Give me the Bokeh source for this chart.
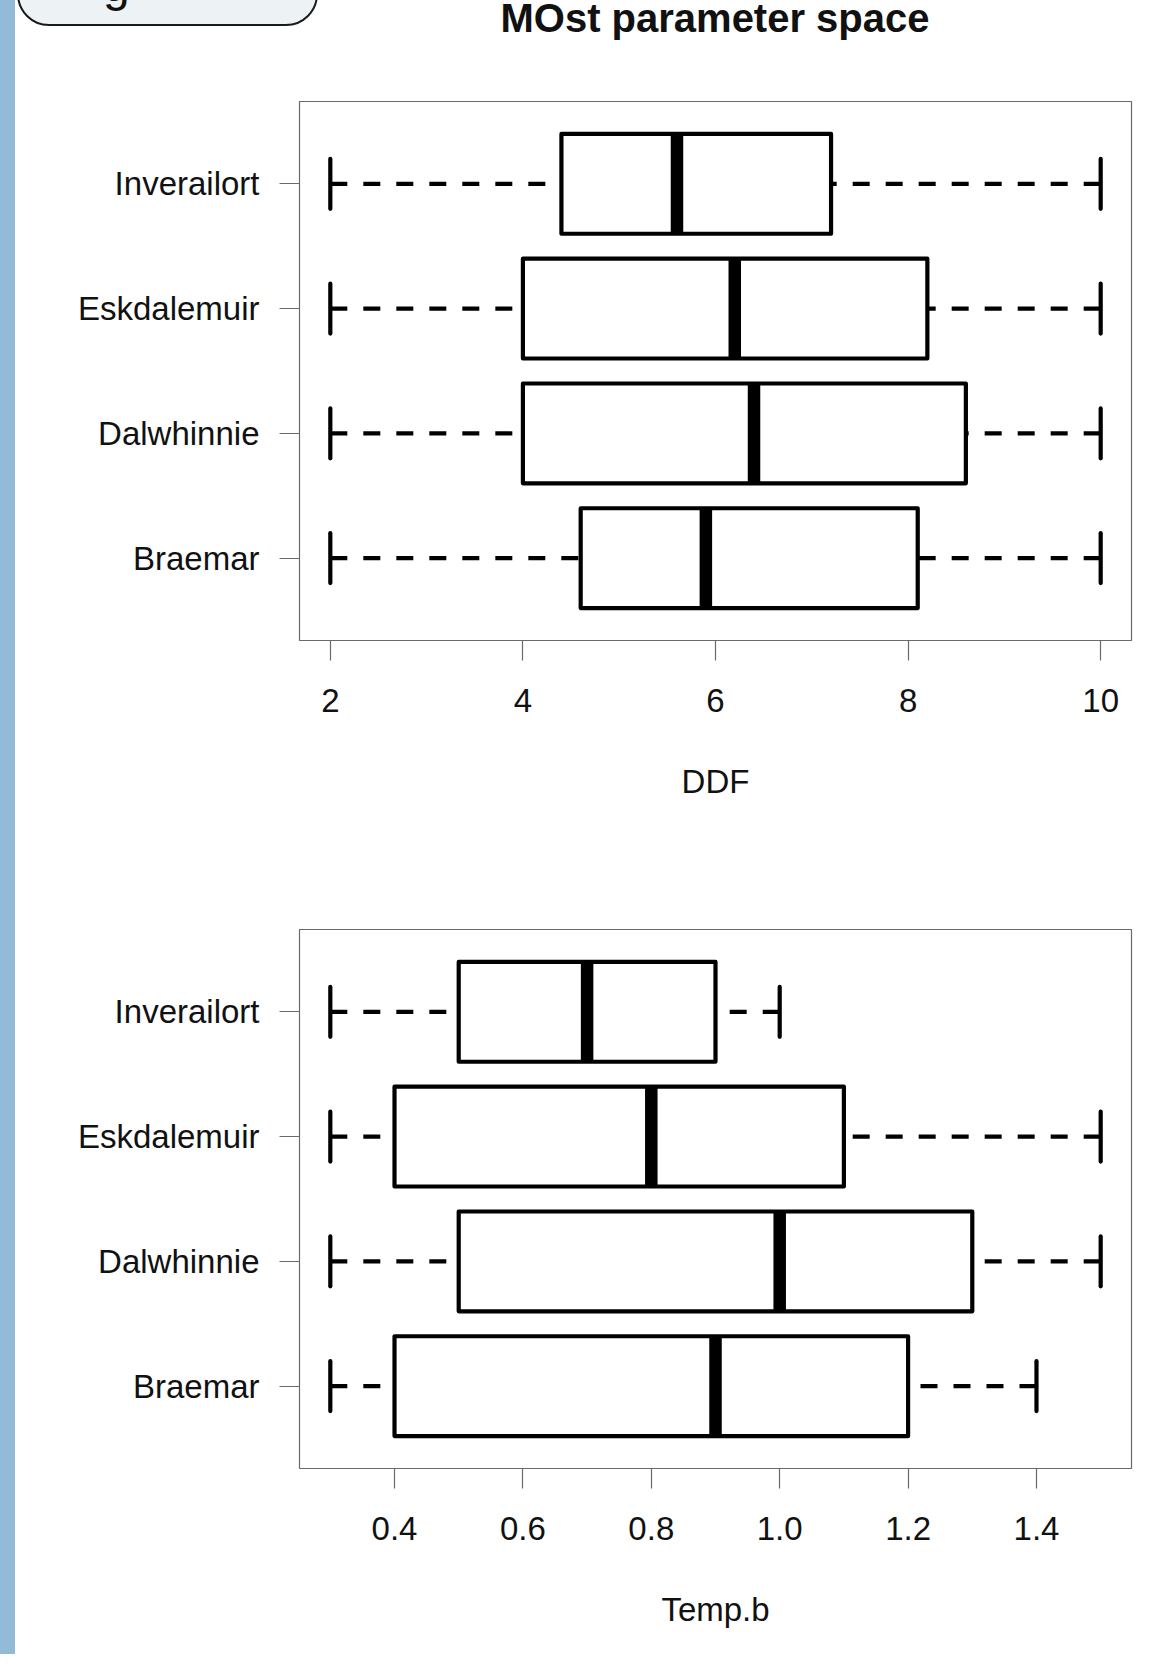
from bokeh.plotting import figure
from bokeh.models import Range1d, FixedTicker, Div, ColumnDataSource
from bokeh.layouts import row, column
from bokeh.embed import file_html
from bokeh.resources import INLINE

# ---------------- data ----------------
stations = ["Braemar", "Dalwhinnie", "Eskdalemuir", "Inverailort"]  # bottom -> top

ddf_min = [2.0, 2.0, 2.0, 2.0]
ddf_q1 = [4.6, 4.0, 4.0, 4.4]
ddf_med = [5.9, 6.4, 6.2, 5.6]
ddf_q3 = [8.1, 8.6, 8.2, 7.2]
ddf_max = [10.0, 10.0, 10.0, 10.0]
ddf_ticks = [2, 4, 6, 8, 10]
ddf_tick_labels = ["2", "4", "6", "8", "10"]

tb_min = [0.3, 0.3, 0.3, 0.3]
tb_q1 = [0.4, 0.5, 0.4, 0.5]
tb_med = [0.9, 1.0, 0.8, 0.7]
tb_q3 = [1.2, 1.3, 1.1, 0.9]
tb_max = [1.4, 1.5, 1.5, 1.0]
tb_ticks = [0.4, 0.6, 0.8, 1.0, 1.2, 1.4]
tb_tick_labels = ["0.4", "0.6", "0.8", "1.0", "1.2", "1.4"]

main_title = "MOst parameter space"

FONT = "Liberation Sans"
TXT = "#111111"
FRAME = "#6a6a6a"
LW = 4.2


def boxplot(width, height, xlo, xhi, mins, q1, med, q3, maxs, ticks, tick_labels,
            xlabel, top_border, bottom_border):
    p = figure(width=width, height=height, output_backend="svg", toolbar_location=None,
               x_range=Range1d(xlo, xhi), y_range=Range1d(0.34, len(stations) + 0.66),
               min_border_left=284, min_border_right=36, min_border_top=top_border,
               min_border_bottom=bottom_border)
    p.grid.visible = False
    p.outline_line_color = FRAME
    p.outline_line_width = 1.2
    p.background_fill_color = "white"
    p.border_fill_color = "white"

    ys = [i + 1 for i in range(len(stations))]
    src = ColumnDataSource(dict(
        y=ys, lo=[y - 0.4 for y in ys], hi=[y + 0.4 for y in ys],
        clo=[y - 0.2 for y in ys], chi=[y + 0.2 for y in ys],
        mn=mins, q1=q1, med=med, q3=q3, mx=maxs))

    # whiskers (dashed, starting from the whisker ends)
    p.segment(x0="mn", y0="y", x1="q1", y1="y", source=src, line_color="black",
              line_width=LW, line_dash="17 16", line_cap="butt")
    p.segment(x0="mx", y0="y", x1="q3", y1="y", source=src, line_color="black",
              line_width=LW, line_dash="17 16", line_cap="butt")
    # boxes
    p.quad(left="q1", right="q3", bottom="lo", top="hi", source=src,
           fill_color="white", line_color="black", line_width=LW, line_join="round")
    # medians
    p.segment(x0="med", y0="lo", x1="med", y1="hi", source=src, line_color="black",
              line_width=12.5, line_cap="butt")
    # staples
    p.segment(x0="mn", y0="clo", x1="mn", y1="chi", source=src, line_color="black",
              line_width=LW, line_cap="round")
    p.segment(x0="mx", y0="clo", x1="mx", y1="chi", source=src, line_color="black",
              line_width=LW, line_cap="round")

    # axes
    xa = p.xaxis[0]
    xa.ticker = FixedTicker(ticks=ticks)
    xa.major_label_overrides = {t: l for t, l in zip(ticks, tick_labels)}
    xa.axis_line_color = None
    xa.major_tick_line_color = FRAME
    xa.major_tick_line_width = 1.2
    xa.major_tick_in = 0
    xa.major_tick_out = 20
    xa.minor_tick_line_color = None
    xa.major_label_standoff = 28
    xa.major_label_text_font = FONT
    xa.major_label_text_font_size = "33px"
    xa.major_label_text_color = TXT
    xa.axis_label = xlabel
    xa.axis_label_text_font = FONT
    xa.axis_label_text_font_size = "33px"
    xa.axis_label_text_font_style = "normal"
    xa.axis_label_text_color = TXT
    xa.axis_label_standoff = 48

    ya = p.yaxis[0]
    ya.ticker = FixedTicker(ticks=ys)
    ya.major_label_overrides = {y: s for y, s in zip(ys, stations)}
    ya.axis_line_color = None
    ya.major_tick_line_color = FRAME
    ya.major_tick_line_width = 1.2
    ya.major_tick_in = 0
    ya.major_tick_out = 20
    ya.minor_tick_line_color = None
    ya.major_label_standoff = 20
    ya.major_label_text_font = FONT
    ya.major_label_text_font_size = "33px"
    ya.major_label_text_color = TXT
    return p


# header strip: partially visible rounded box of the page + the main title
header_html = (
    '<div style="position:relative;width:1152px;height:45px;overflow:hidden;'
    'background:white;">'
    '<div style="position:absolute;left:2px;top:-62px;width:301px;height:88px;'
    'box-sizing:border-box;border:2.2px solid #1a1a1a;border-radius:32px;'
    'background:#EDF2F5;"></div>'
    '<span style="position:absolute;left:88px;top:-39px;font-family:\'Liberation Sans\';'
    'font-size:48px;line-height:48px;color:#111;">g</span>'
    '<span style="position:absolute;left:700px;top:0px;transform:translateX(-50%);'
    'white-space:nowrap;font-family:\'Liberation Sans\';font-weight:bold;font-size:40px;'
    'line-height:36px;color:#111;">' + main_title + '</span>'
    '</div>'
)
header = Div(text=header_html, width=1152, height=45, margin=0,
             styles={"overflow": "hidden"})

p1 = boxplot(1152, 775, 1.68, 10.32, ddf_min, ddf_q1, ddf_med, ddf_q3, ddf_max,
             ddf_ticks, ddf_tick_labels, "DDF", 56, 180)

p2 = boxplot(1152, 836, 0.252, 1.548, tb_min, tb_q1, tb_med, tb_q3, tb_max,
             tb_ticks, tb_tick_labels, "Temp.b", 109, 188)

bar = Div(text="", width=15, height=1654, margin=0,
          styles={"background-color": "#93BAD6"})

layout = row(bar, column(header, p1, p2, margin=0), margin=0)

open("out.html", "w").write(file_html(layout, INLINE))
